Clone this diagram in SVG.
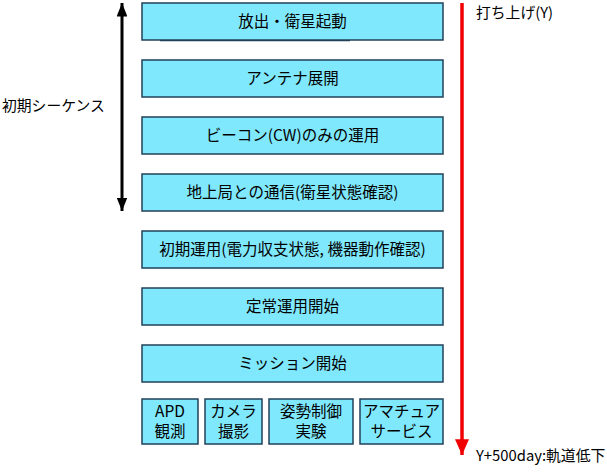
<svg xmlns="http://www.w3.org/2000/svg" width="607" height="475" viewBox="0 0 607 475">
<style>
.box{fill:#80E8FC;stroke:#23405A;stroke-width:1.5}
.t{font-family:"Noto Sans CJK JP","Liberation Sans",sans-serif;font-size:15.5px;fill:#000;text-anchor:middle}
.l{font-family:"Noto Sans CJK JP","Liberation Sans",sans-serif;font-size:14.8px;fill:#000}
</style>
<defs>
<marker id="ab" viewBox="0 0 10 10" refX="10" refY="5" markerWidth="4.5" markerHeight="3.6" markerUnits="strokeWidth" orient="auto-start-reverse" preserveAspectRatio="none"><path d="M0,0 L10,5 L0,10 Z" fill="#000"/></marker>
<marker id="ar" viewBox="0 0 10 10" refX="10" refY="5" markerWidth="4.5" markerHeight="4" markerUnits="strokeWidth" orient="auto" preserveAspectRatio="none"><path d="M0,0 L10,5 L0,10 Z" fill="#F00000"/></marker>
</defs>
<g id="connectors">
<line x1="122" y1="3" x2="122" y2="211" stroke="#000" stroke-width="3" marker-start="url(#ab)" marker-end="url(#ab)"/>
<line x1="462" y1="3" x2="462" y2="455" stroke="#F00000" stroke-width="3.5" marker-end="url(#ar)"/>
<line x1="160" y1="40.5" x2="350" y2="40.5" stroke="#23405A" stroke-width="1.5"/>
</g>
<g id="n1"><rect class="box" x="142" y="3" width="301" height="37"/><text class="t" x="292.5" y="27">放出・衛星起動</text></g>
<g id="n2"><rect class="box" x="142" y="60" width="301" height="37"/><text class="t" x="292.5" y="84">アンテナ展開</text></g>
<g id="n3"><rect class="box" x="142" y="117" width="301" height="37"/><text class="t" x="292.5" y="141">ビーコン(CW)のみの運用</text></g>
<g id="n4"><rect class="box" x="142" y="174" width="301" height="37"/><text class="t" x="292.5" y="198">地上局との通信(衛星状態確認)</text></g>
<g id="n5"><rect class="box" x="142" y="231" width="301" height="37"/><text class="t" x="292.5" y="255">初期運用(電力収支状態, 機器動作確認)</text></g>
<g id="n6"><rect class="box" x="142" y="288" width="301" height="37"/><text class="t" x="292.5" y="312">定常運用開始</text></g>
<g id="n7"><rect class="box" x="142" y="345" width="301" height="37"/><text class="t" x="292.5" y="369">ミッション開始</text></g>
<g id="m1"><rect class="box" x="142" y="399" width="56" height="45"/><text class="t" x="170" y="417">APD</text><text class="t" x="170" y="437">観測</text></g>
<g id="m2"><rect class="box" x="205" y="399" width="57" height="45"/><text class="t" x="233.5" y="417">カメラ</text><text class="t" x="233.5" y="437">撮影</text></g>
<g id="m3"><rect class="box" x="269" y="399" width="84" height="45"/><text class="t" x="311" y="417">姿勢制御</text><text class="t" x="311" y="437">実験</text></g>
<g id="m4"><rect class="box" x="360" y="399" width="83" height="45"/><text class="t" x="401.5" y="417">アマチュア</text><text class="t" x="401.5" y="437">サービス</text></g>
<text class="l" x="2" y="111">初期シーケンス</text>
<text class="l" x="476" y="18">打ち上げ(Y)</text>
<text class="l" x="476" y="461">Y+500day:軌道低下</text>
</svg>
